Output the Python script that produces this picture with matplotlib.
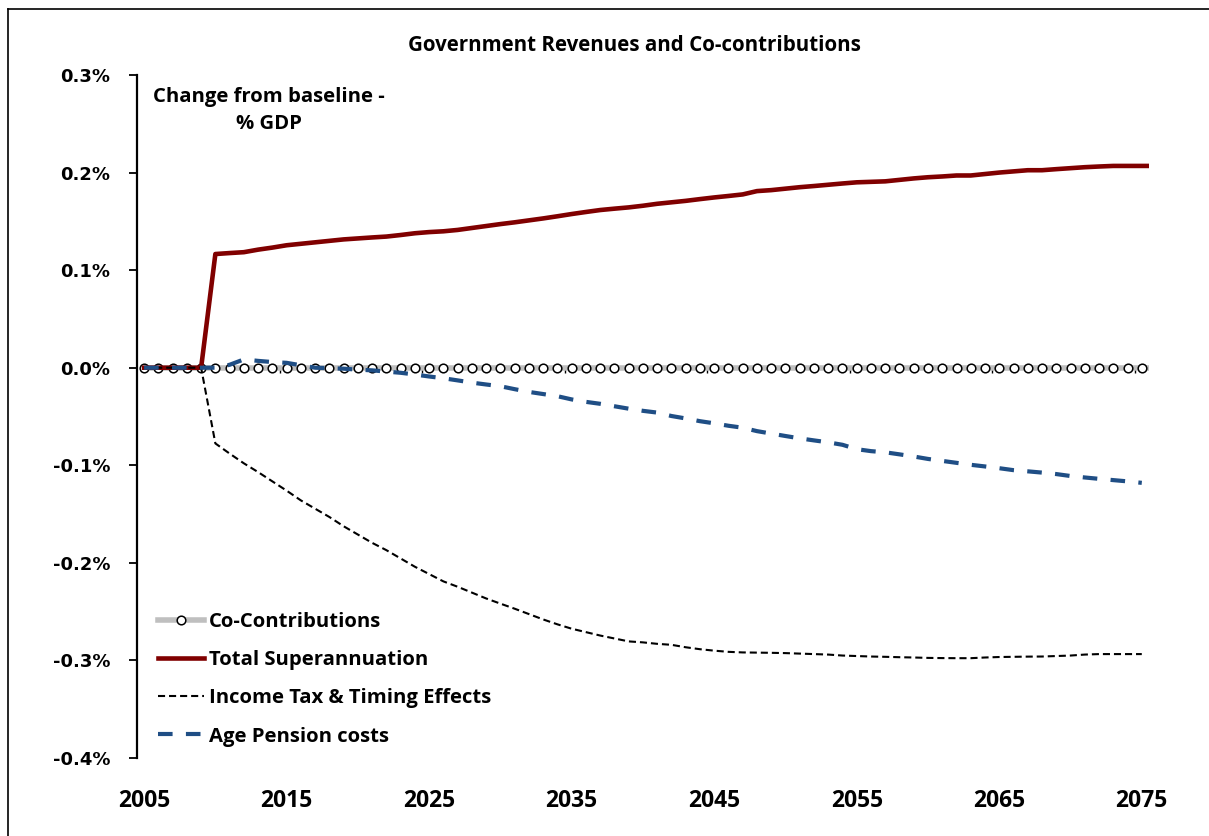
import numpy as np
import matplotlib
matplotlib.use("Agg")
import matplotlib.pyplot as plt
from matplotlib.ticker import FuncFormatter, MultipleLocator
from matplotlib.lines import Line2D

# years shown on the category axis (points sit in the middle of each category)
years = np.arange(2005, 2076)
years_ext = np.arange(2005, 2077)   # the grey and red lines run on to the plot edge
tick_years = [2005, 2015, 2025, 2035, 2045, 2055, 2065, 2075]

# change from baseline, % of GDP
co_contributions = [0.0] * 72

total_super = [
    0, 0, 0, 0, 0,
    0.1165, 0.1175, 0.1184, 0.1210, 0.1231, 0.1255, 0.1270, 0.1285, 0.1300, 0.1315,
    0.1325, 0.1335, 0.1344, 0.1360, 0.1378, 0.1390, 0.1398, 0.1412, 0.1432, 0.1452,
    0.1472, 0.1490, 0.1510, 0.1530, 0.1552, 0.1575, 0.1596, 0.1616, 0.1630, 0.1643,
    0.1660, 0.1680, 0.1695, 0.1710, 0.1728, 0.1745, 0.1760, 0.1776, 0.1810, 0.1820,
    0.1835, 0.1850, 0.1862, 0.1875, 0.1888, 0.1900, 0.1905, 0.1910, 0.1925, 0.1940,
    0.1952, 0.1960, 0.1970, 0.1970, 0.1985, 0.2000, 0.2012, 0.2024, 0.2024, 0.2035,
    0.2045, 0.2055, 0.2062, 0.2068, 0.2068, 0.2068, 0.2068,
]

income_tax = [
    0, 0, 0, 0, 0,
    -0.0776, -0.0880, -0.0980, -0.1070, -0.1165, -0.1260, -0.1360, -0.1445, -0.1530, -0.1625,
    -0.1710, -0.1795, -0.1870, -0.1955, -0.2040, -0.2115, -0.2190, -0.2245, -0.2305, -0.2365,
    -0.2418, -0.2470, -0.2525, -0.2580, -0.2630, -0.2675, -0.2710, -0.2745, -0.2775, -0.2805,
    -0.2815, -0.2830, -0.2840, -0.2865, -0.2885, -0.2900, -0.2912, -0.2918, -0.2920, -0.2922,
    -0.2925, -0.2930, -0.2935, -0.2940, -0.2950, -0.2955, -0.2960, -0.2963, -0.2967, -0.2970,
    -0.2974, -0.2976, -0.2977, -0.2977, -0.2970, -0.2965, -0.2963, -0.2961, -0.2960, -0.2955,
    -0.2950, -0.2940, -0.2935, -0.2935, -0.2935, -0.2935,
]

age_pension = [
    0, 0, 0, 0, 0, 0,
    0.0030, 0.0085, 0.0070, 0.0058, 0.0050, 0.0025, 0.0000, -0.0005, -0.0010,
    -0.0020, -0.0027, -0.0040, -0.0052, -0.0070, -0.0090, -0.0108, -0.0130, -0.0153, -0.0172,
    -0.0190, -0.0220, -0.0248, -0.0270, -0.0292, -0.0325, -0.0350, -0.0370, -0.0395, -0.0420,
    -0.0442, -0.0460, -0.0495, -0.0520, -0.0548, -0.0570, -0.0595, -0.0615, -0.0650, -0.0675,
    -0.0700, -0.0724, -0.0745, -0.0765, -0.0790, -0.0835, -0.0855, -0.0867, -0.0888, -0.0910,
    -0.0935, -0.0955, -0.0975, -0.0995, -0.1012, -0.1030, -0.1050, -0.1062, -0.1075, -0.1090,
    -0.1110, -0.1125, -0.1139, -0.1152, -0.1165, -0.1180,
]

label_font = {"family": "Open Sans", "weight": "bold"}

fig = plt.figure(figsize=(12.09, 8.36), dpi=100)
ax = fig.add_axes([0.1133, 0.0933, 0.837, 0.817])

ax.plot(years_ext, co_contributions, color="#bfbfbf", lw=4, marker="o", ms=6.2,
        mfc="white", mec="black", mew=1.1, label="Co-Contributions", zorder=2)
ax.plot(years_ext, total_super, color="#800000", lw=3.3, label="Total Superannuation",
        zorder=3)
ax.plot(years, income_tax, color="black", lw=1.5, dashes=(3.4, 1.9),
        label="Income Tax & Timing Effects", zorder=4)
ax.plot(years, age_pension, color="#1f4e85", lw=3, dashes=(3.5, 3.2),
        label="Age Pension costs", zorder=5)

ax.set_xlim(2004.5, 2075.5)
ax.set_ylim(-0.4, 0.3)

# y axis
ax.yaxis.set_major_locator(MultipleLocator(0.1))
ax.yaxis.set_major_formatter(FuncFormatter(lambda v, p: f"{round(v, 1) + 0.0:.1f}%"))
ax.tick_params(axis="y", direction="out", length=6, width=1.3, pad=13)
for lab in ax.get_yticklabels():
    lab.set_fontfamily("DejaVu Sans")
    lab.set_fontweight("bold")
    lab.set_fontsize(13)
ax.spines["left"].set_linewidth(1.6)
for s in ["top", "right", "bottom"]:
    ax.spines[s].set_visible(False)

# year labels under the plot
ax.set_xticks(tick_years)
ax.set_xticklabels([str(y) for y in tick_years], fontsize=16.5, **label_font)
ax.tick_params(axis="x", length=0, pad=22)

# horizontal axis crosses at zero: only its small tick marks show
zero_axis = ax.secondary_xaxis(0, transform=ax.transData)
zero_axis.set_xticks([y - 0.5 for y in tick_years[1:]])
zero_axis.set_xticklabels([])
zero_axis.tick_params(direction="out", length=3.5, width=1, color="black")
zero_axis.spines["bottom"].set_visible(False)

fig.text(0.525, 0.946, "Government Revenues and Co-contributions", ha="center",
         va="center", fontsize=14.8, **label_font)
ax.text(0.13, 0.948, "Change from baseline -\n% GDP", transform=ax.transAxes,
        ha="center", va="center", fontsize=14.6, linespacing=1.45, **label_font)

leg = ax.legend(loc="upper left", bbox_to_anchor=(0.021, 0.214), frameon=False,
                prop={"family": "Open Sans", "weight": "bold", "size": 14.6},
                handlelength=2.25, handletextpad=0.25, labelspacing=0.9,
                borderpad=0, borderaxespad=0)

# chart area border (left and top edges are visible)
fig.add_artist(Line2D([8 / 1209, 8 / 1209], [0, 1 - 9 / 836], color="black", lw=1.2))
fig.add_artist(Line2D([8 / 1209, 1], [1 - 9 / 836, 1 - 9 / 836], color="black", lw=1.2))

fig.savefig("out.png", dpi=100)
